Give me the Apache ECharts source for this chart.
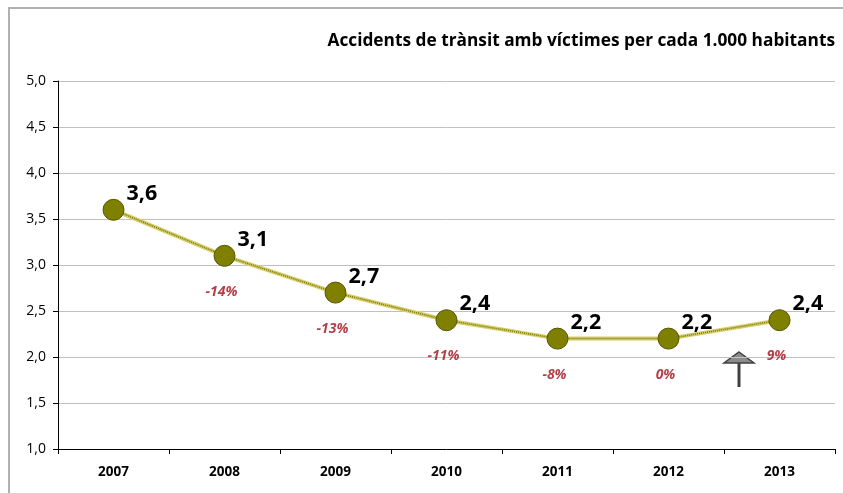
<!DOCTYPE html>
<html><head><meta charset="utf-8">
<script src="https://cdn.jsdelivr.net/npm/echarts@6/dist/echarts.min.js"></script>
<style>html,body{margin:0;padding:0;background:#fff}#c{width:843px;height:493px}</style>
</head><body><div id="c"></div>
<script>
const years = ['2007','2008','2009','2010','2011','2012','2013'];
const values = [3.6, 3.1, 2.7, 2.4, 2.2, 2.2, 2.4];
const changes = ['', '-14%', '-13%', '-11%', '-8%', '0%', '9%'];
const yTicks = [1.0, 1.5, 2.0, 2.5, 3.0, 3.5, 4.0, 4.5, 5.0];
const title = 'Accidents de trànsit amb víctimes per cada 1.000 habitants';

const fmt = v => v.toFixed(1).replace('.', ',');
const FONT = '"Open Sans", "DejaVu Sans", sans-serif';

const chart = echarts.init(document.getElementById('c'), null, {renderer:'canvas'});
chart.setOption({
  animation: false,
  backgroundColor: '#fff',
  title: {
    text: title, right: 3, top: 28,
    textStyle: {fontFamily: FONT, fontSize: 17.3, fontWeight: 'bold', color: '#000'}
  },
  grid: {left: 58, right: 8, top: 81, bottom: 44},
  xAxis: {
    type: 'category', data: years, boundaryGap: true,
    axisLine: {lineStyle: {color: '#000', width: 1}},
    axisTick: {show: true, length: 5, lineStyle: {color: '#000'}},
    axisLabel: {fontFamily: FONT, fontSize: 13.5, fontWeight: 'bold', color: '#000', margin: 16}
  },
  yAxis: {
    type: 'value', min: yTicks[0], max: yTicks[yTicks.length-1], interval: 0.5,
    axisLine: {show: true, lineStyle: {color: '#000', width: 1}},
    axisTick: {show: true, length: 5, lineStyle: {color: '#000'}},
    splitLine: {lineStyle: {color: '#c0c0c0', width: 1}},
    axisLabel: {fontFamily: FONT, fontSize: 14, color: '#000', margin: 12, formatter: v => fmt(v)}
  },
  series: [
    {
      type: 'line', data: values, symbol: 'none', z: 2,
      lineStyle: {color: '#d6ce6a', width: 4}, silent: true
    },
    {
      type: 'line', data: values, symbol: 'circle', symbolSize: 21, z: 3,
      lineStyle: {color: '#7a7500', width: 1.5, type: [1, 1]},
      itemStyle: {color: '#808000', borderColor: '#555500', borderWidth: 1},
      label: {
        show: true, position: 'right', distance: 2, offset: [0, -16],
        fontFamily: FONT, fontSize: 21.5, fontWeight: 'bold', color: '#000',
        formatter: p => fmt(p.value)
      }
    },
    {
      type: 'scatter', data: values, symbolSize: 1, z: 4,
      itemStyle: {color: 'rgba(0,0,0,0)'},
      label: {
        show: true, position: 'inside', offset: [-3, 36],
        fontFamily: FONT, fontSize: 14, fontWeight: 'bold', fontStyle: 'italic', color: '#a0101a',
        formatter: p => changes[p.dataIndex]
      }
    }
  ],
  graphic: [
    {type: 'rect', shape: {x: 9, y: 8, width: 900, height: 600}, style: {fill: 'none', stroke: '#b0b0b0', lineWidth: 2}, silent: true},
    {type: 'line', shape: {x1: 739, y1: 362, x2: 739, y2: 387}, style: {stroke: '#404040', lineWidth: 3}},
    {type: 'polygon', shape: {points: [[739, 352], [754, 363], [724, 363]]}, style: {fill: '#8c8c8c', stroke: '#404040', lineWidth: 1.5}}
  ]
});
</script></body></html>
